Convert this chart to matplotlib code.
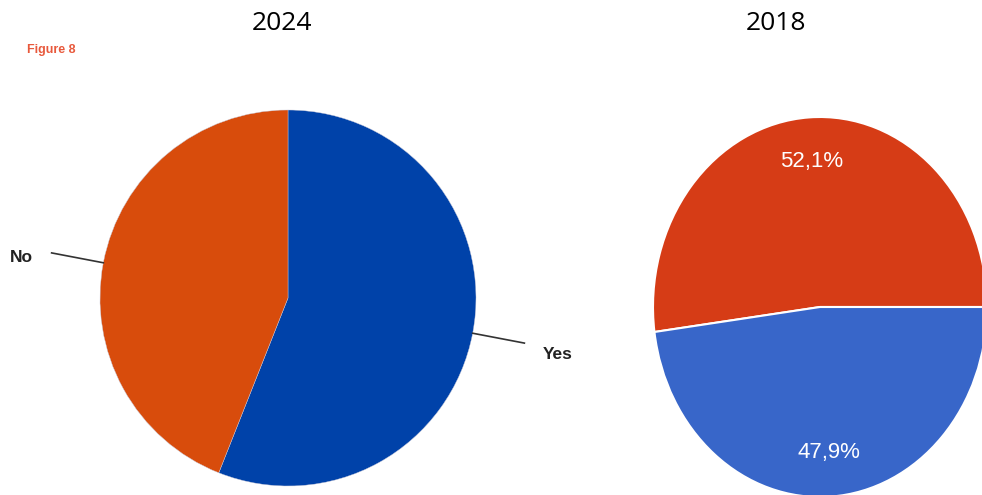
import numpy as np
import matplotlib
matplotlib.use("Agg")
import matplotlib.pyplot as plt

# survey answers, 2024 vs 2018
labels_2024 = ["Yes", "No"]
shares_2024 = [56.0, 44.0]
colors_2024 = ["#0042A9", "#D84C0C"]

labels_2018 = ["No", "Yes"]
shares_2018 = [52.1, 47.9]
colors_2018 = ["#D63C16", "#3866C9"]

plt.rcParams["font.family"] = ["Liberation Sans", "DejaVu Sans"]

W, H = 982, 495
fig = plt.figure(figsize=(W / 100, H / 100), dpi=100)


def box(x0, y0, x1, y1):
    # pixel box (top-left origin) -> figure fraction rect
    return [x0 / W, (H - y1) / H, (x1 - x0) / W, (y1 - y0) / H]


# 2024 pie, named slices with leader lines
ax1 = fig.add_axes(box(100, 110, 476, 486))
wedges, _ = ax1.pie(shares_2024, colors=colors_2024, startangle=90,
                    counterclock=False,
                    wedgeprops=dict(edgecolor="#C8C8D8", linewidth=0.3))
ax1.set_xlim(-1, 1)
ax1.set_ylim(-1, 1)
for w, lab in zip(wedges, labels_2024):
    mid = np.deg2rad((w.theta1 + w.theta2) / 2)
    c, s = np.cos(mid), np.sin(mid)
    ax1.plot([c, 1.28 * c], [s, 1.28 * s], color="#333333", lw=1.2,
             clip_on=False)
    ax1.annotate(lab, (1.38 * c, 1.38 * s), xytext=(0, -6),
                 textcoords="offset points",
                 ha="left" if c > 0 else "right", va="center",
                 fontsize=12.5, fontweight="bold", color="#222222",
                 annotation_clip=False)

# 2018 pie, stretched vertically and running off the figure edge
ax2 = fig.add_axes(box(653, 117, 987, 497))
ax2.pie(shares_2018, colors=colors_2018, startangle=0, counterclock=True,
        autopct=lambda p: f"{p:.1f}%".replace(".", ","), pctdistance=0.77,
        textprops=dict(color="white", fontsize=16),
        wedgeprops=dict(edgecolor="white", linewidth=1.5))
ax2.set_aspect("auto")
ax2.set_xlim(-1, 1)
ax2.set_ylim(-1, 1)

fig.text(282 / W, 1 - 24 / H, "2024", ha="center", va="center",
         fontsize=19, family=["Open Sans", "DejaVu Sans"])
fig.text(776 / W, 1 - 24 / H, "2018", ha="center", va="center",
         fontsize=19, family=["Open Sans", "DejaVu Sans"])
fig.text(27 / W, 1 - 50 / H, "Figure 8", ha="left", va="center",
         fontsize=9, fontweight="bold", color="#E8593C")

fig.savefig("out.png", dpi=100)
